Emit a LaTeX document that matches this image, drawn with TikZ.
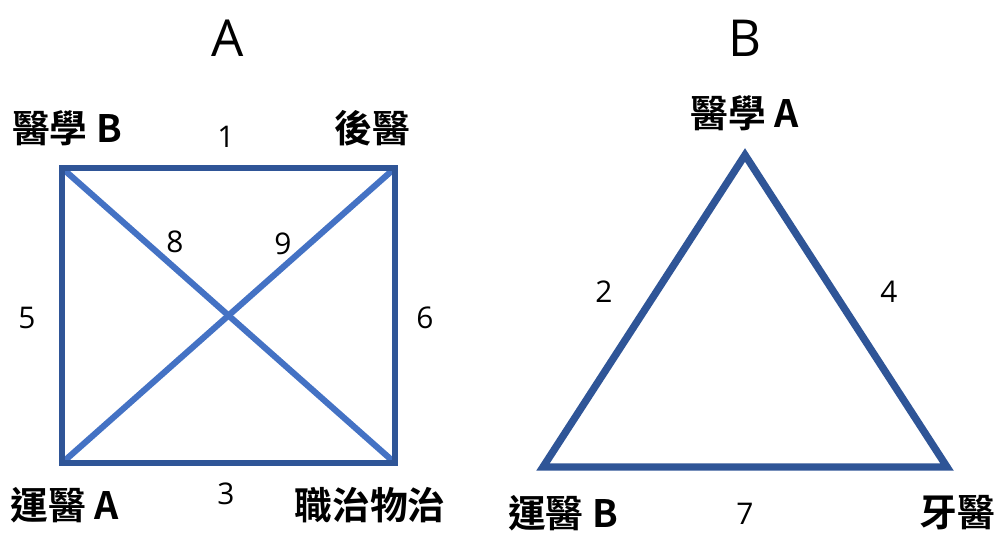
\documentclass[tikz,border=0pt]{standalone}
\usepackage{fontspec}
\setmainfont{Open Sans}
\newfontfamily\cjkbold[BoldFont={Noto Sans CJK TC Bold}]{Noto Sans CJK TC}
\usetikzlibrary{positioning}
\definecolor{edgedark}{HTML}{2F5597}
\definecolor{edgelight}{HTML}{4472C4}

\begin{document}
\begin{tikzpicture}[
  x=0.02cm, y=-0.02cm,
  title/.style={font=\fontsize{29}{31}\selectfont},
  place/.style={font=\cjkbold\bfseries\fontsize{21.5}{23}\selectfont, inner sep=0pt},
  num/.style={font=\fontsize{17}{19}\selectfont, inner sep=0pt},
  outer/.style={edgedark, line width=3.6pt},
  cross/.style={edgelight, line width=3.5pt}
]
  \useasboundingbox (0,0) rectangle (996,533);

  % square A
  \node[title] (tA) at (228,38) {A};
  \coordinate (s1) at (62,168);
  \coordinate (s2) at (395,168);
  \coordinate (s3) at (395,463);
  \coordinate (s4) at (62,463);
  \foreach \a/\b in {s1/s3,s2/s4} \draw[cross] (\a) -- (\b);
  \draw[outer] (s1) -- (s2) -- (s3) -- (s4) -- cycle;

  \node[place] (medB) at (67,128) {醫學 B};
  \node[place] (post) at (372,128) {後醫};
  \node[place] (sportA) at (65,505) {運醫 A};
  \node[place] (otpt) at (370,505) {職治物治};
  \node[num] (e1) at (226,137) {1};
  \node[num] (e3) at (226,494) {3};
  \node[num] (e5) at (27,318) {5};
  \node[num] (e6) at (425,318) {6};
  \node[num] (e8) at (175,242) {8};
  \node[num] (e9) at (283,244) {9};

  % triangle B
  \node[title] (tB) at (745,38) {B};
  \coordinate (t1) at (745,155);
  \coordinate (t2) at (947,467);
  \coordinate (t3) at (543,467);
  \draw[outer, line width=4.2pt] (t1) -- (t2) -- (t3) -- cycle;

  \node[place] (medA) at (745,113) {醫學 A};
  \node[place] (sportB) at (563,513) {運醫 B};
  \node[place] (dent) at (957,513) {牙醫};
  \node[num] (e2) at (604,292) {2};
  \node[num] (e4) at (889,292) {4};
  \node[num] (e7) at (745,514) {7};
\end{tikzpicture}
\end{document}
